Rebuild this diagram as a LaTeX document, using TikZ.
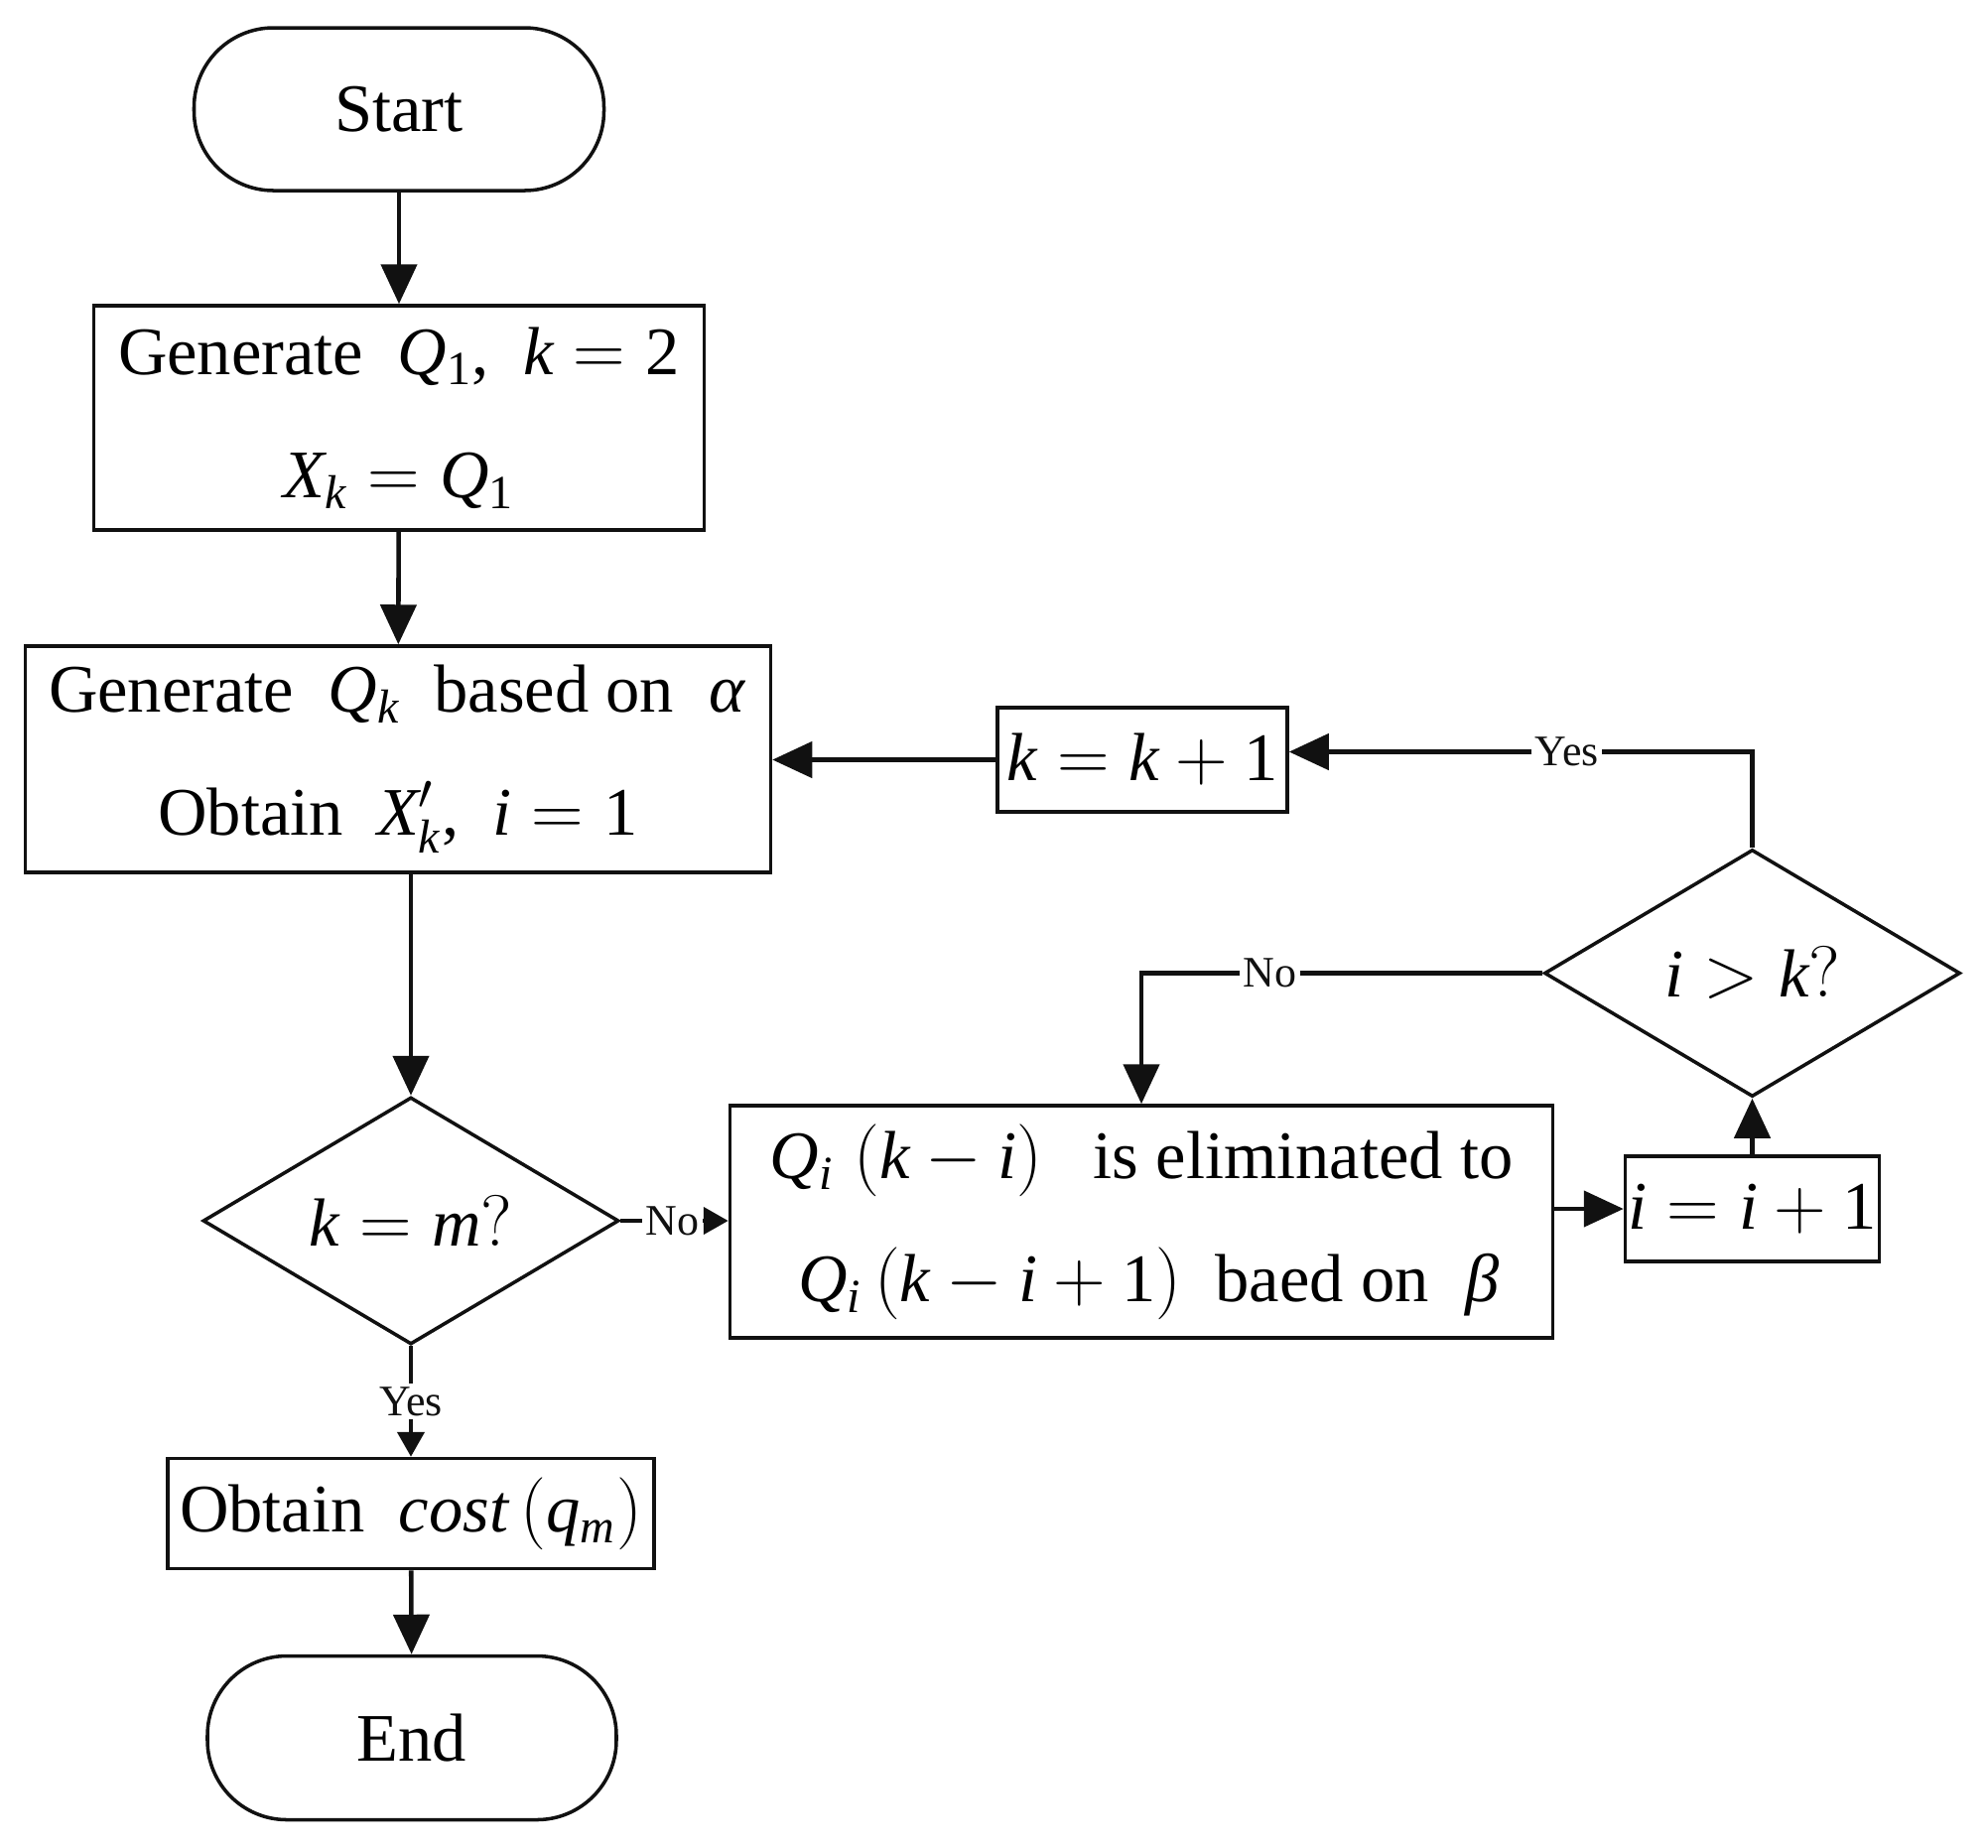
\documentclass[tikz,border=0pt]{standalone}
\usepackage{mathspec}
\setmainfont{Liberation Serif}
\setmathsfont(Digits,Latin,Greek){Liberation Serif}
\usepackage{xcolor}
\definecolor{colLine}{HTML}{111111}
\usepackage{tikz}
\usetikzlibrary{arrows.meta, positioning, shapes.geometric, calc}

\begin{document}
\begin{tikzpicture}[
    flow/.style={draw=colLine, line width=1pt, rectangle, inner sep=0pt, align=center,
        font=\fontsize{19.5}{24}\selectfont},
    term/.style={flow, rounded corners=8mm},
    cond/.style={flow, diamond, shape aspect=1.7},
    link/.style={colLine, line width=1.3pt, -{Triangle[length=4mm,width=3.6mm]}},
    smalllink/.style={colLine, line width=1.3pt, -{Triangle[length=2.5mm,width=2.7mm]}},
    tag/.style={fill=white, inner sep=1pt, font=\fontsize{12.5}{14}\selectfont}]
        % Sfondo
        \useasboundingbox (0,0) rectangle (20.03,-18.61);
        % Colonna sinistra
        \node[term, minimum width=4.13cm, minimum height=1.64cm] (start) at (4.02,-1.10) {Start};
        \node[flow, minimum width=6.15cm, minimum height=2.26cm] (gen1) at (4.02,-4.21)
            {Generate\ \ $Q_1$,\ \ $k=2$\\[4mm] $X_k=Q_1$};
        \node[flow, minimum width=7.51cm, minimum height=2.28cm] (gen2) at (4.01,-7.65)
            {Generate\ \ $Q_k$\ \ based on\ \ $\alpha$\\[4mm] Obtain\ \ $X_k'$,\ \ $i=1$};
        \node[cond, minimum width=4.19cm, minimum height=2.49cm] (km) at (4.14,-12.30) {$k=m?$};
        \node[flow, minimum width=4.90cm, minimum height=1.11cm] (cost) at (4.14,-15.25)
            {Obtain\ \ $cost\,(q_m)$};
        \node[term, minimum width=4.12cm, minimum height=1.65cm] (stop) at (4.15,-17.51) {End};
        % Ciclo a destra
        \node[flow, minimum width=8.29cm, minimum height=2.34cm] (elim) at (11.50,-12.31)
            {$Q_i\;(k-i)$\ \ \ is eliminated to\\[4mm] \ $Q_i\,(k-i+1)$\ \ baed on\ \ $\beta$};
        \node[flow, minimum width=2.56cm, minimum height=1.06cm] (inci) at (17.655,-12.18) {$i=i+1$};
        \node[cond, minimum width=4.19cm, minimum height=2.49cm] (ik) at (17.655,-9.805) {$i>k?$};
        \node[flow, minimum width=2.92cm, minimum height=1.05cm] (inck) at (11.51,-7.655) {$k=k+1$};
        % Frecce
        \draw[link] (start) -- (gen1);
        \draw[link] (gen1) -- (gen2);
        \draw[link] (km.north |- gen2.south) -- (km.north);
        \draw[smalllink] (km) -- node[tag]{Yes} (cost);
        \draw[link] (cost) -- (stop);
        \draw[smalllink] (km.east) -- node[tag, pos=0.48]{No} (km.east -| elim.west);
        \draw[link] (elim.east |- inci.west) -- (inci.west);
        \draw[link] (inci) -- (ik);
        \draw[link] (ik.north) |- node[tag, pos=0.70]{Yes} ([yshift=0.8mm]inck.east);
        \draw[link] (ik.west) -| node[tag, pos=0.34]{No} (elim.north);
        \draw[link] (inck.west) -- (inck.west -| gen2.east);
    \end{tikzpicture}
\end{document}
